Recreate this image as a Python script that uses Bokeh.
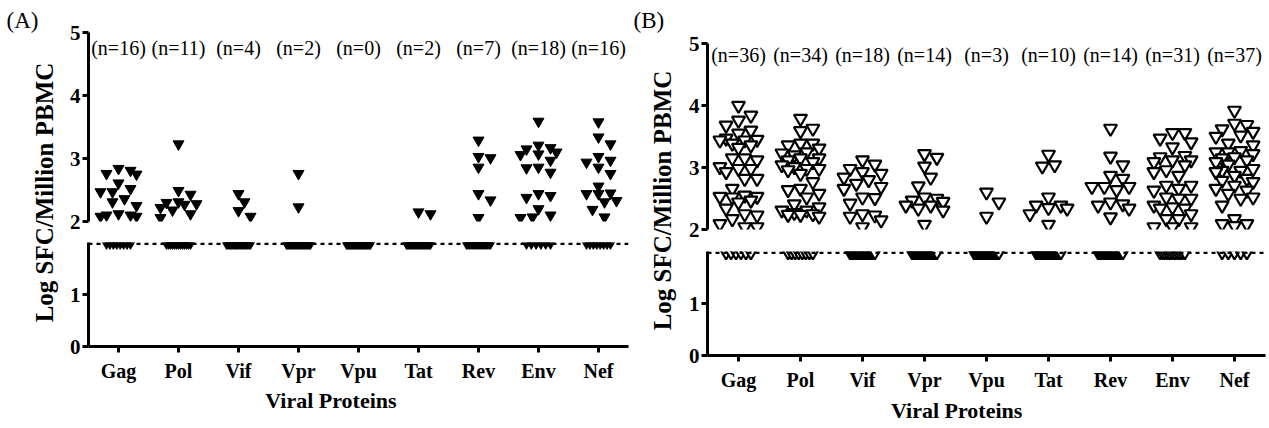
import math
from bokeh.plotting import figure
from bokeh.layouts import row, column
from bokeh.models import Range1d, FactorRange, ColumnDataSource, Label, Span, FixedTicker
from bokeh.core.properties import value
from bokeh.embed import file_html
from bokeh.resources import INLINE

proteins = ["Gag", "Pol", "Vif", "Vpr", "Vpu", "Tat", "Rev", "Env", "Nef"]

# ---- Panel A: responders (Log SFC / million PBMC) ----
a_gag = [2.84, 2.81, 2.76, 2.75, 2.61, 2.52, 2.47, 2.47, 2.36, 2.31, 2.25, 2.12, 2.10, 2.10, 2.08, 2.08]
a_pol = [3.23, 2.49, 2.43, 2.31, 2.30, 2.28, 2.27, 2.22, 2.18, 2.12, 2.06]
a_vif = [2.44, 2.31, 2.17, 2.08]
a_vpr = [2.76, 2.23]
a_vpu = []
a_tat = [2.15, 2.12]
a_rev = [3.29, 3.03, 3.01, 2.86, 2.44, 2.34, 2.06]
a_env = [3.59, 3.21, 3.17, 3.15, 3.10, 3.07, 3.06, 2.97, 2.86, 2.85, 2.78, 2.44, 2.41, 2.38, 2.20, 2.10, 2.07, 2.06]
a_nef = [3.58, 3.34, 3.23, 3.03, 2.97, 2.94, 2.86, 2.76, 2.56, 2.45, 2.44, 2.44, 2.33, 2.31, 2.19, 2.07]

# ---- Panel B ----
b_gag = [4.00, 3.84, 3.76, 3.68, 3.60, 3.55, 3.47, 3.45, 3.44, 3.44, 3.39, 3.36, 3.32, 3.15, 3.15, 3.12,
         3.01, 2.98, 2.98, 2.93, 2.82, 2.82, 2.66, 2.55, 2.53, 2.53, 2.52, 2.47, 2.44, 2.34, 2.25, 2.23,
         2.17, 2.09, 2.04, 2.04]
b_pol = [3.79, 3.63, 3.59, 3.39, 3.39, 3.36, 3.31, 3.25, 3.23, 3.20, 3.15, 3.15, 3.12, 3.09, 3.04, 3.01,
         2.98, 2.98, 2.96, 2.90, 2.77, 2.66, 2.64, 2.58, 2.52, 2.41, 2.36, 2.31, 2.31, 2.27, 2.25, 2.24,
         2.24, 2.21]
b_vif = [3.12, 3.05, 2.98, 2.93, 2.90, 2.84, 2.80, 2.74, 2.69, 2.66, 2.52, 2.51, 2.42, 2.25, 2.23, 2.21,
         2.15, 2.04]
b_vpr = [3.22, 3.16, 3.02, 2.84, 2.70, 2.52, 2.50, 2.47, 2.45, 2.39, 2.39, 2.34, 2.31, 2.08]
b_vpu = [2.60, 2.44, 2.21]
b_tat = [3.21, 3.04, 3.02, 2.52, 2.39, 2.39, 2.35, 2.34, 2.25, 2.08]
b_rev = [3.63, 3.18, 3.04, 2.87, 2.82, 2.69, 2.69, 2.69, 2.64, 2.44, 2.41, 2.39, 2.34, 2.20]
b_env = [3.56, 3.56, 3.47, 3.41, 3.33, 3.19, 3.17, 3.12, 3.12, 3.09, 3.04, 2.96, 2.93, 2.87, 2.71, 2.71,
         2.66, 2.63, 2.52, 2.50, 2.50, 2.39, 2.36, 2.34, 2.34, 2.25, 2.17, 2.17, 2.04, 2.04, 2.04]
b_nef = [3.92, 3.71, 3.69, 3.62, 3.58, 3.52, 3.50, 3.39, 3.36, 3.27, 3.25, 3.25, 3.22, 3.17, 3.15, 3.12,
         3.09, 3.05, 2.98, 2.95, 2.95, 2.93, 2.87, 2.82, 2.79, 2.77, 2.71, 2.66, 2.63, 2.58, 2.52, 2.50,
         2.39, 2.17, 2.09, 2.09, 2.06]

a_series = [a_gag, a_pol, a_vif, a_vpr, a_vpu, a_tat, a_rev, a_env, a_nef]
b_series = [b_gag, b_pol, b_vif, b_vpr, b_vpu, b_tat, b_rev, b_env, b_nef]

# subjects tested per panel (estimated); non-responders are drawn at the detection floor
a_total = 24
b_total = 42
below_detection = 1.99

SERIF = "Liberation Serif"


def swarm(vals, sx, sy, size, step, kmax):
    """Simple beeswarm: horizontal offsets (category units) so markers do not overlap."""
    order = sorted(range(len(vals)), key=lambda i: -vals[i])
    cands = [0]
    for k in range(1, kmax + 1):
        cands += [k, -k]
    placed = []
    offs = [0.0] * len(vals)
    for i in order:
        v = vals[i]
        best, bestd = 0.0, -1.0
        for c in cands:
            o = c * step
            if placed:
                d = min(((o - po) * sx) ** 2 + ((v - pv) * sy) ** 2 for po, pv in placed)
            else:
                d = float("inf")
            if d >= size * size:
                best = o
                break
            if d > bestd:
                bestd, best = d, o
        offs[i] = best
        placed.append((best, v))
    return offs


def style_y(ax, ticks, bounds):
    ax.ticker = FixedTicker(ticks=ticks)
    ax.bounds = bounds
    ax.axis_line_width = 3
    ax.axis_line_color = "black"
    ax.major_tick_line_width = 3
    ax.major_tick_line_color = "black"
    ax.major_tick_out = 6
    ax.major_tick_in = 0
    ax.minor_tick_line_color = None
    ax.major_label_standoff = 2
    ax.major_label_text_font = SERIF
    ax.major_label_text_font_style = "bold"
    ax.major_label_text_font_size = "21px"
    ax.major_label_text_color = "black"


def blank_fig(w, h):
    f = figure(width=w, height=h, x_range=Range1d(0, w), y_range=Range1d(0, h),
               output_backend="svg", toolbar_location=None, x_axis_location=None,
               y_axis_location=None, min_border=0, outline_line_color=None)
    f.xgrid.visible = False
    f.ygrid.visible = False
    return f


def make_panel(letter, series, total, filled, lw, geo):
    xr = FactorRange(*proteins, range_padding=0)
    sx = geo["frame_w"] / len(proteins)
    sy = geo["up_px"]

    xs, ys = [], []
    lx, ly = [], []
    for cat, vals in zip(proteins, series):
        offs = swarm(vals, sx, sy, geo["msize"] - 1, 0.1, 3)
        for o, v in zip(offs, vals):
            xs.append((cat, o))
            ys.append(v)
        k = total - len(vals)
        for j in range(k):
            o = 0.0 if k == 1 else -0.2 + 0.4 * j / (k - 1)
            lx.append((cat, o))
            ly.append(below_detection)

    common = dict(output_backend="svg", toolbar_location=None, x_range=xr,
                  min_border_left=geo["bl"], min_border_right=geo["br"],
                  background_fill_color="white", border_fill_color="white",
                  outline_line_color=None)

    up = figure(width=geo["w"], height=geo["up_h"], y_range=Range1d(2, geo["up_end"]),
                x_axis_location=None, min_border_top=22, min_border_bottom=14, **common)
    low = figure(width=geo["w"], height=geo["low_h"], y_range=Range1d(0, 2),
                 min_border_top=geo["low_top"], min_border_bottom=geo["low_bottom"], **common)
    for p in (up, low):
        p.xgrid.visible = False
        p.ygrid.visible = False
    style_y(up.yaxis[0], [2, 3, 4, 5], (2, 5))
    style_y(low.yaxis[0], [0, 1], (0, 2))

    fill = "black" if filled else "white"
    up.scatter(x="x", y="y", source=ColumnDataSource(dict(x=xs, y=ys)), marker="inverted_triangle",
               size=geo["msize"], fill_color=fill, line_color="black", line_width=lw)
    low.scatter(x="x", y="y", source=ColumnDataSource(dict(x=lx, y=ly)), marker="inverted_triangle",
                size=geo["msize"], fill_color=fill, line_color="black", line_width=lw)

    n_src = ColumnDataSource(dict(x=proteins, y=[geo["n_y"]] * len(proteins),
                                  t=["(n=%d)" % len(v) for v in series]))
    up.text(x="x", y="y", text="t", source=n_src, text_font=value(SERIF), text_font_size="20px",
            text_align="center", text_baseline="middle", text_color="black")

    low.add_layout(Span(location=1.975, dimension="width", line_color="black",
                        line_width=2.5, line_dash="4 4"))

    xa = low.xaxis[0]
    xa.axis_line_width = 3
    xa.axis_line_color = "black"
    xa.major_tick_line_width = 3
    xa.major_tick_line_color = "black"
    xa.major_tick_out = 6
    xa.major_tick_in = 0
    xa.major_label_standoff = 7
    xa.major_label_text_font = SERIF
    xa.major_label_text_font_style = "bold"
    xa.major_label_text_font_size = "20px"
    xa.major_label_text_color = "black"

    # x-axis title strip (title is off-centre in the original, under Vpr/Vpu)
    strip = blank_fig(geo["w"], geo["strip_h"])
    strip.add_layout(Label(x=geo["xt_x"], y=geo["xt_y"], text="Viral Proteins",
                           text_align="center", text_baseline="middle", text_color="black",
                           text_font=SERIF, text_font_style="bold", text_font_size="22px"))

    lab = blank_fig(geo["lab_w"], 428)
    lab.add_layout(Label(x=geo["ylab_x"], y=428 - geo["ylab_y"], text="Log SFC/Million PBMC",
                         angle=math.pi / 2, text_align="center", text_baseline="middle",
                         text_color="black",
                         text_font=SERIF, text_font_style="bold", text_font_size="25px"))
    lab.add_layout(Label(x=geo["let_x"], y=428 - 20, text="(%s)" % letter,
                         text_align="left", text_baseline="middle", text_color="black",
                         text_font=SERIF, text_font_size="23px"))
    return row(lab, column(up, low, strip, spacing=0), spacing=0)


# A: upper 0..235 (value 2 at y=221), lower 235..388 (frame 242..346), strip 388..428
geo_a = dict(w=568, lab_w=62, bl=26, br=2, frame_w=540, up_h=235, up_end=5.16, up_px=63,
             low_h=153, low_top=7, low_bottom=42, strip_h=40, n_y=4.76, msize=11,
             ylab_x=44, ylab_y=192, let_x=6, xt_x=255, xt_y=28)
# B: upper 0..243 (value 2 at y=229), lower 243..395 (frame 251..355), strip 395..428
geo_b = dict(w=589, lab_w=50, bl=27, br=4, frame_w=558, up_h=243, up_end=5.34, up_px=62,
             low_h=152, low_top=8, low_bottom=40, strip_h=33, n_y=4.82, msize=13,
             ylab_x=32, ylab_y=200, let_x=3, xt_x=263, xt_y=18)

panel_a = make_panel("A", a_series, a_total, True, 1, geo_a)
panel_b = make_panel("B", b_series, b_total, False, 2.2, geo_b)

layout = row(panel_a, panel_b, spacing=0)

open("out.html", "w").write(file_html(layout, INLINE))
